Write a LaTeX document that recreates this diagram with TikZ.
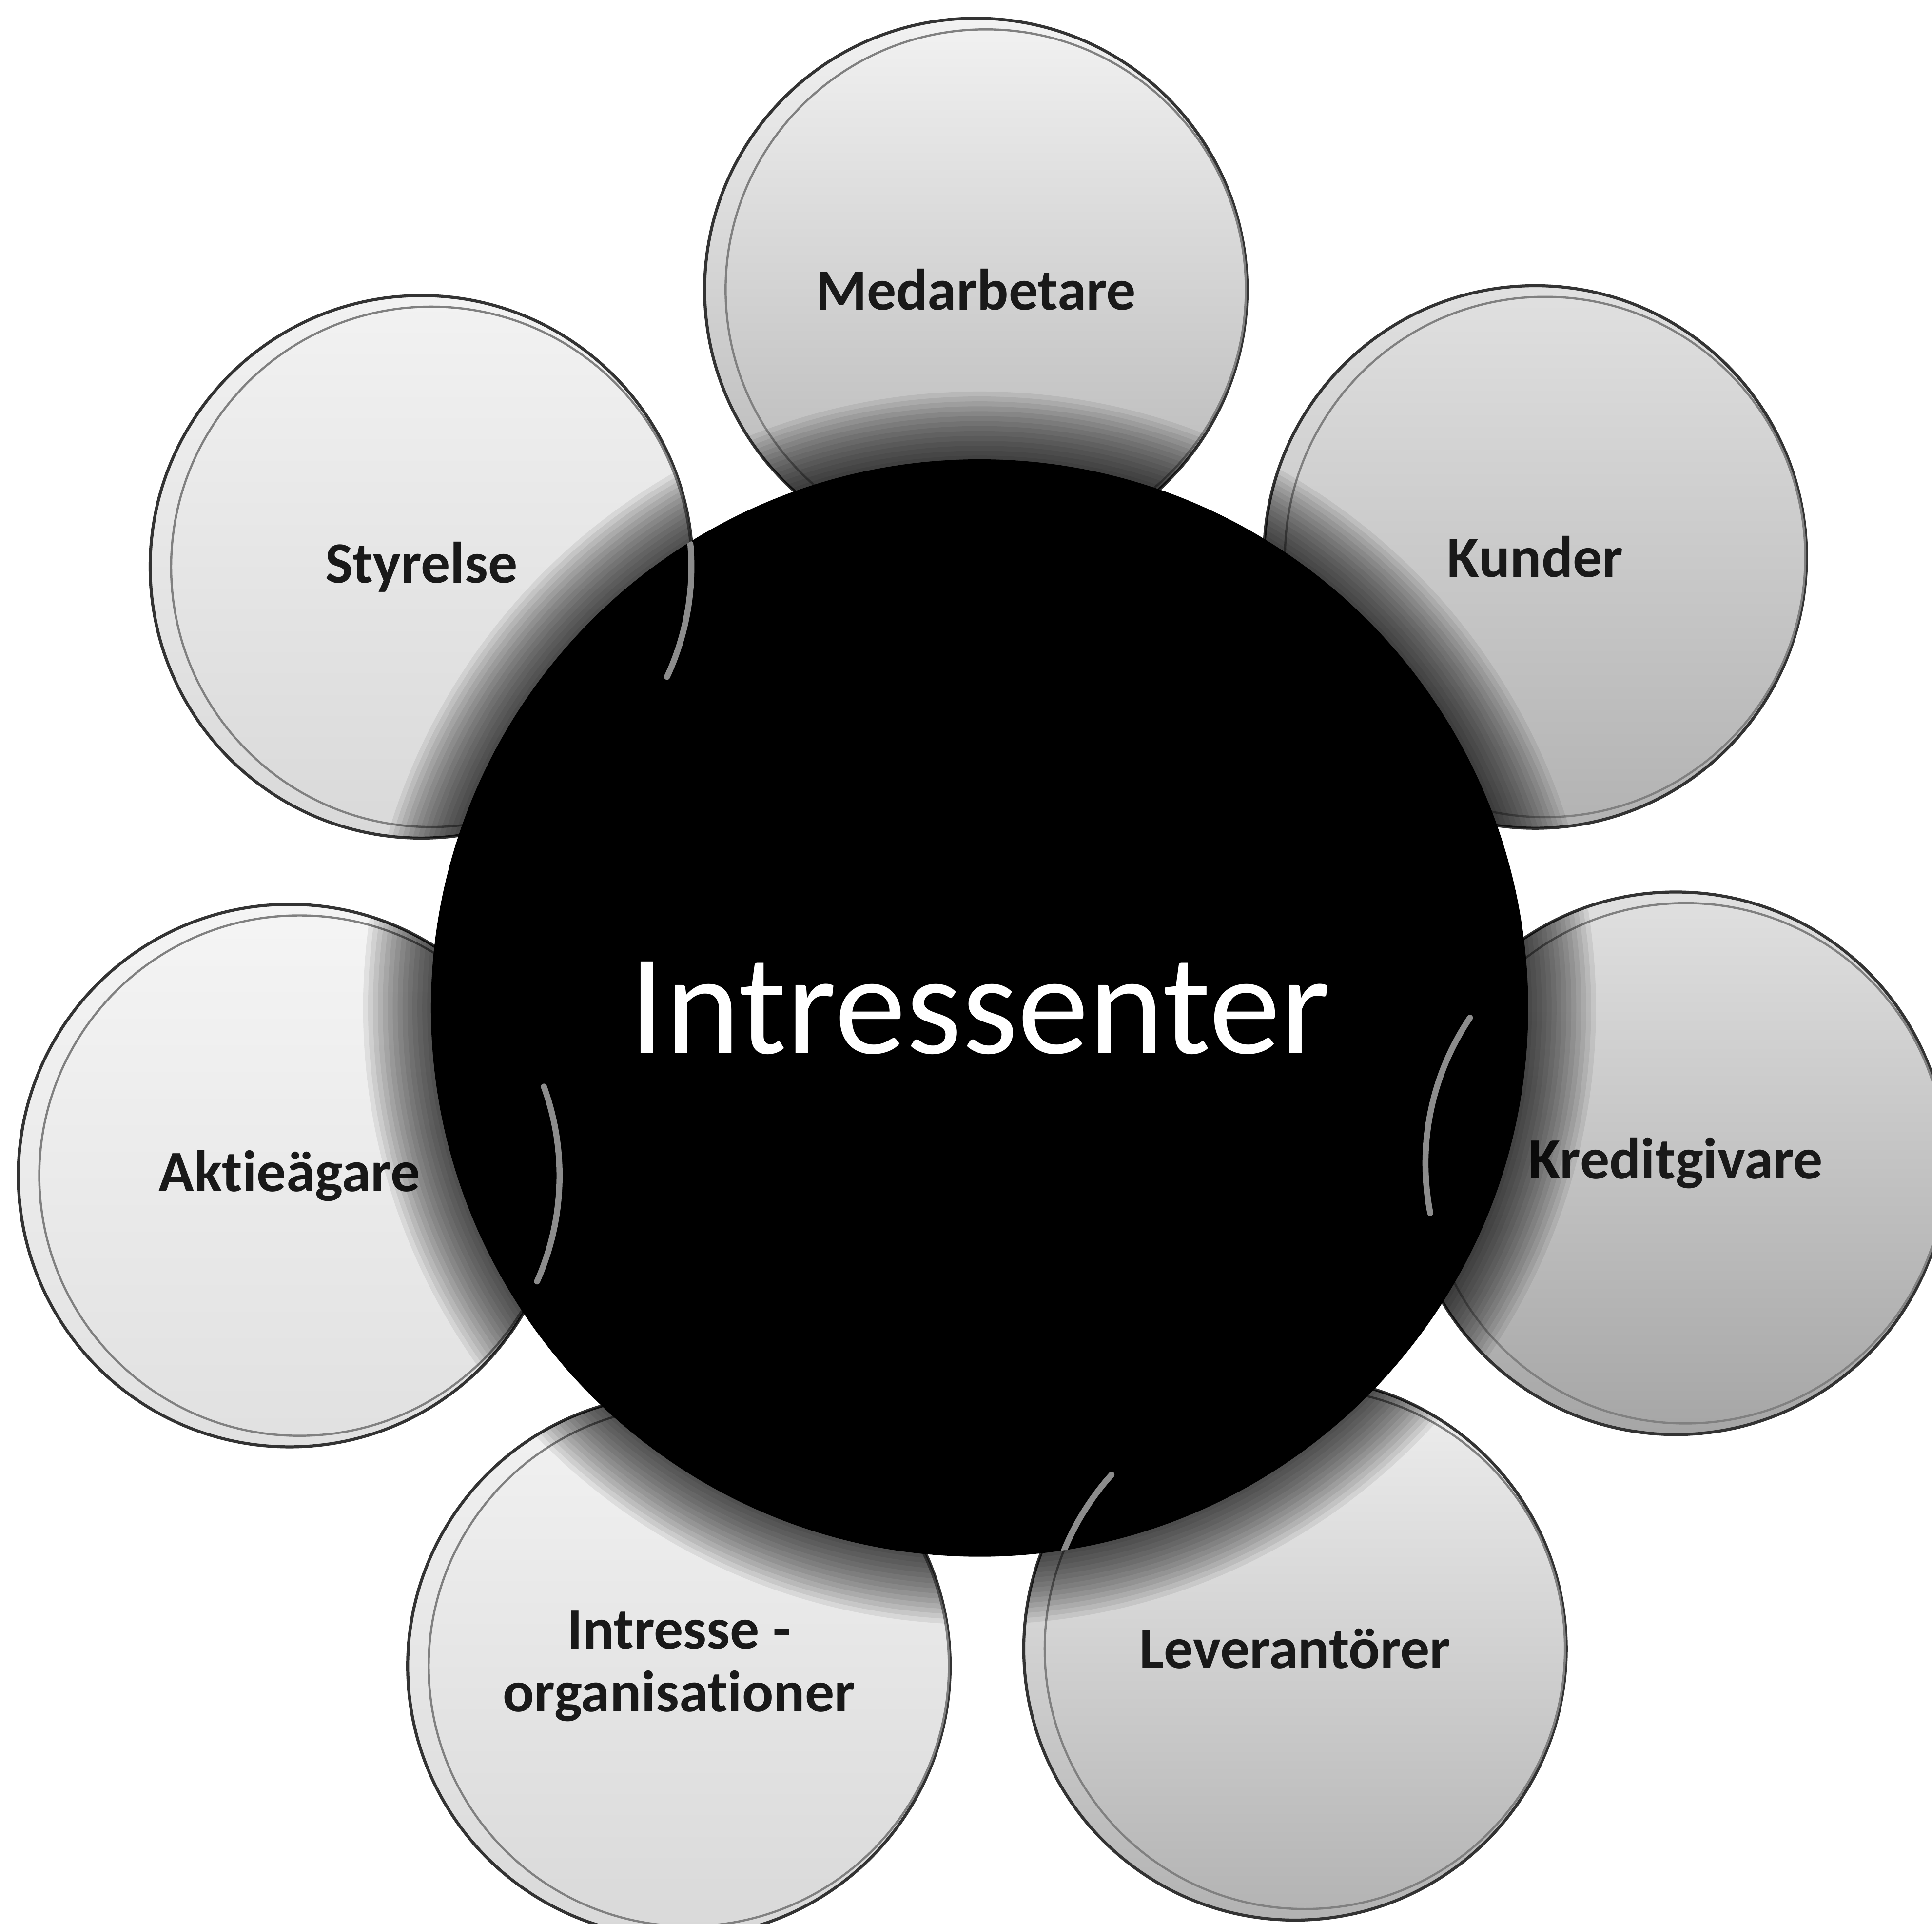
\documentclass[tikz,border=0pt]{standalone}
\usepackage{fontspec}
\newfontfamily\carlito[Ligatures=NoCommon]{Carlito}
\usetikzlibrary{positioning}

\begin{document}
\begin{tikzpicture}[x=0.01cm, y=0.01cm,
	party/.style={circle, minimum size=4.4cm, inner sep=0pt, draw=black!80, line width=0.7pt,
		align=center, text=black!90, font=\carlito\bfseries\fontsize{13.5}{14.5}\selectfont},
	core/.style={circle, minimum size=8.9cm, inner sep=0pt, fill=black, text=white,
		font=\carlito\fontsize{33}{36}\selectfont},
	ring/.style={draw=black!50, line width=0.5pt},
	glint/.style={draw=white, opacity=.55, line width=1.4pt, line cap=round}]
			\useasboundingbox (0,0) rectangle (1568,1561);
			\coordinate (mid) at (795,743);
			% the seven stakeholder groups
			\node[party, top color=black!5, bottom color=black!30] (medarb) at (792,1326) {Medarbetare};
			\node[party, top color=black!12, bottom color=black!30] (kund) at (1246,1109) {Kunder};
			\node[party, top color=black!12, bottom color=black!35] (kredit) at (1360,617) {Kreditgivare};
			\node[party, top color=black!6, bottom color=black!30] (lev) at (1051,223) {Leverantörer};
			\node[party, top color=black!5, bottom color=black!15] (intorg) at (551,209) {Intresse -\\organisationer};
			\node[party, top color=black!4, bottom color=black!12] (aktie) at (235,607) {Aktieägare};
			\node[party, top color=black!5, bottom color=black!15] (styr) at (342,1101) {Styrelse};
			\foreach \n in {medarb,kund,kredit,lev,intorg,aktie,styr}
				\draw[ring] ([xshift=0.08cm]\n.center) circle (2.11cm);
			% shadow of the centre on the groups
			\begin{scope}
				\clip (medarb.center) circle (2.2cm) (kund.center) circle (2.2cm)
					(kredit.center) circle (2.2cm) (lev.center) circle (2.2cm)
					(intorg.center) circle (2.2cm) (aktie.center) circle (2.2cm)
					(styr.center) circle (2.2cm);
				\foreach \r in {5.0,4.96,...,4.46}
					\fill[black, opacity=.07] (mid) circle (\r cm);
			\end{scope}
			\node[core] (intr) at (mid) {Intressenter};
			% inner rings showing through the centre
			\begin{scope}
				\clip (mid) circle (4.45cm);
				\draw[glint] ([xshift=0.08cm]styr.center) ++(-25:2.11cm) arc[start angle=-25, end angle=5, radius=2.11cm];
				\draw[glint] ([xshift=0.08cm]aktie.center) ++(-24:2.11cm) arc[start angle=-24, end angle=20, radius=2.11cm];
				\draw[glint] ([xshift=0.08cm]kredit.center) ++(146:2.11cm) arc[start angle=146, end angle=191, radius=2.11cm];
				\draw[glint] ([xshift=0.08cm]lev.center) ++(138:2.11cm) arc[start angle=138, end angle=158, radius=2.11cm];
			\end{scope}
		\end{tikzpicture}
\end{document}
